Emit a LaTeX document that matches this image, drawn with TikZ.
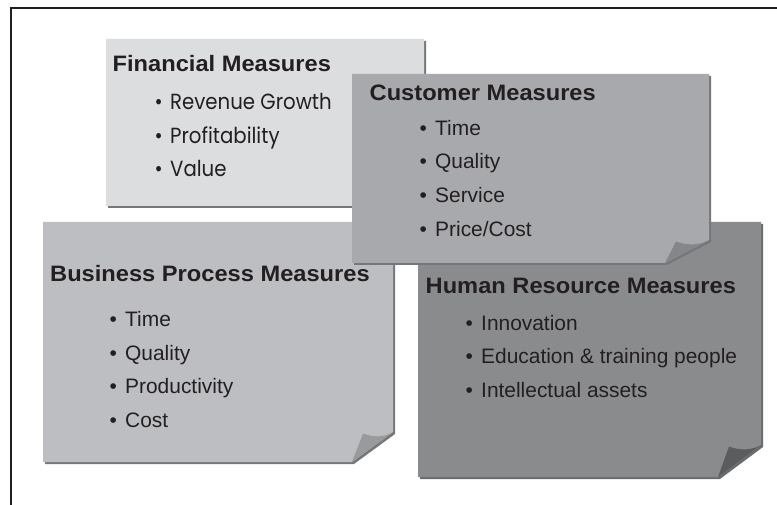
\documentclass[tikz,border=0pt]{standalone}
\usepackage{fontspec}
\setmainfont{Liberation Sans}
\newfontfamily\headfont[FakeStretch=1.06]{Liberation Sans}
\newfontfamily\finfont[FakeStretch=0.9]{Poppins}
\usetikzlibrary{calc}

\definecolor{ink}{HTML}{231F20}
\definecolor{finfill}{HTML}{DCDDDF}
\definecolor{custfill}{HTML}{A8A9AC}
\definecolor{bpfill}{HTML}{BDBEC1}
\definecolor{hrfill}{HTML}{8A8B8D}
\definecolor{edge}{HTML}{76777A}
\definecolor{hredge}{HTML}{6A6B6D}
\definecolor{bpfold}{HTML}{999A9C}
\definecolor{custfold}{HTML}{85868A}
\definecolor{hrfold}{HTML}{5B5C5E}

% sheet with a turned-up lower right corner
% #1,#2 top left; #3,#4 bottom right; #5 foot of fold; #6 top of fold; #7 paper; #8 shadow; #9 fold
\def\sheet#1#2#3#4#5#6#7#8#9{%
  \fill[#8] (#1+2,#2+2) -- (#3+2,#2+2) -- (#3+2,#6+2) -- (#5+2,#4+2) -- (#1+2,#4+2) -- cycle;
  \fill[#7] (#1,#2) -- (#3,#2) -- (#3,#6) -- (#5,#4) -- (#1,#4) -- cycle;
  \fill[#9] (#5,#4) -- (#5+11,#6+1.5) .. controls (#5+22,#6+6) and (#3-8,#6+5) .. (#3,#6) -- cycle;
}

\begin{document}
\begin{tikzpicture}[x=1bp, y=-1bp,
    head/.style={anchor=base west, inner sep=0pt, text=ink, font=\headfont\bfseries\fontsize{22.4}{26}\selectfont},
    item/.style={anchor=base west, inner sep=0pt, text=ink, font=\fontsize{21}{24}\selectfont},
    finitem/.style={anchor=base west, inner sep=0pt, text=ink, font=\finfont\fontsize{22}{24}\selectfont}]
	%%%%% START %%%%%
	\useasboundingbox (0,0) rectangle (777,505);
	
	\draw[ink, line width=3] (11,505) -- (11,8) -- (777,8);
	
	% financial
	\sheet{106}{39}{424}{206}{380}{183}{finfill}{edge}{finfill!70!black}
	\node[head] (fin-title) at (112.5,72) {Financial Measures};
	\node[finitem] (fin-1) at (154.5,110) {\makebox[15.5bp][l]{\textbullet}Revenue Growth};
	\node[finitem] (fin-2) at (154.5,144) {\makebox[15.5bp][l]{\textbullet}Profitability};
	\node[finitem] (fin-3) at (154.5,177) {\makebox[15.5bp][l]{\textbullet}Value};
	
	% business process
	\sheet{43}{222}{393}{462}{352}{432}{bpfill}{edge}{bpfold}
	\node[head] (bp-title) at (50,282) {Business Process Measures};
	\node[item] (bp-1) at (109.5,326) {\makebox[15.5bp][l]{\textbullet}Time};
	\node[item] (bp-2) at (109.5,360) {\makebox[15.5bp][l]{\textbullet}Quality};
	\node[item] (bp-3) at (109.5,393) {\makebox[15.5bp][l]{\textbullet}Productivity};
	\node[item] (bp-4) at (109.5,427) {\makebox[15.5bp][l]{\textbullet}Cost};
	
	% human resource
	\sheet{418}{222}{761}{477}{718}{445}{hrfill}{hredge}{hrfold}
	\node[head] (hr-title) at (425.5,294) {Human Resource Measures};
	\node[item] (hr-1) at (465.5,330) {\makebox[15.5bp][l]{\textbullet}Innovation};
	\node[item] (hr-2) at (465.5,363) {\makebox[15.5bp][l]{\textbullet}Education \& training people};
	\node[item] (hr-3) at (465.5,397) {\makebox[15.5bp][l]{\textbullet}Intellectual assets};
	
	% customer, lies on top
	\sheet{352}{74}{709}{263}{665}{240}{custfill}{edge}{custfold}
	\node[head] (cust-title) at (369.5,101) {Customer Measures};
	\node[item] (cust-1) at (419.5,136) {\makebox[15.5bp][l]{\textbullet}Time};
	\node[item] (cust-2) at (419.5,169) {\makebox[15.5bp][l]{\textbullet}Quality};
	\node[item] (cust-3) at (419.5,203) {\makebox[15.5bp][l]{\textbullet}Service};
	\node[item] (cust-4) at (419.5,237) {\makebox[15.5bp][l]{\textbullet}Price/Cost};
	
	%%%%% END %%%%%
\end{tikzpicture}
\end{document}
